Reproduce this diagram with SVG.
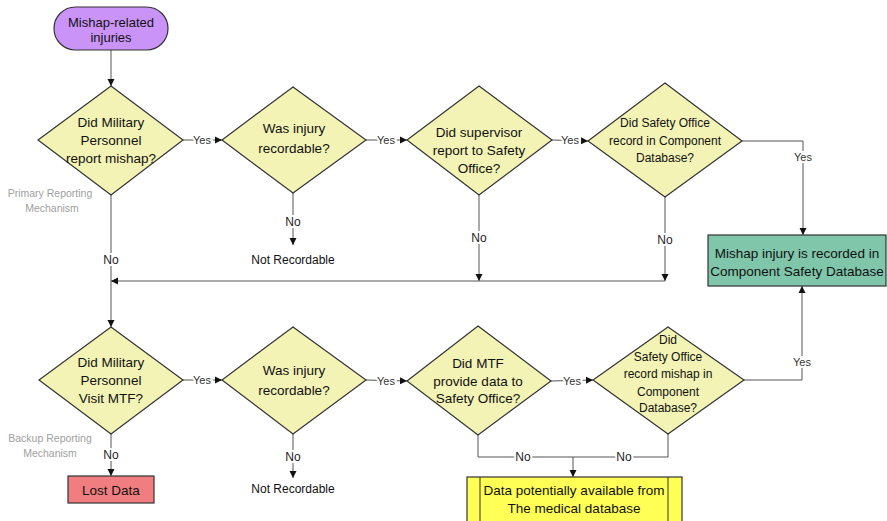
<svg xmlns="http://www.w3.org/2000/svg" width="887" height="521" viewBox="0 0 887 521">
<defs>
<marker id="ah" markerWidth="8" markerHeight="8" refX="7" refY="4" orient="auto" markerUnits="userSpaceOnUse">
<path d="M0,0.5 L7,4 L0,7.5 Z" fill="#111"/>
</marker>
<style>
text{font-family:"Liberation Sans",Arial,sans-serif;fill:#111;text-anchor:middle}
.d{fill:#f3f3b6;stroke:#333;stroke-width:1.2}
.t13{font-size:13.5px}
.t12{font-size:12px}
.c{fill:none;stroke:#555;stroke-width:1}
.a{marker-end:url(#ah)}
.lb{font-size:11px;fill:#333;stroke:#fff;stroke-width:4;paint-order:stroke}
.no{font-size:12px;fill:#222;stroke:#fff;stroke-width:4;paint-order:stroke}
.g{font-size:10.5px;fill:#a0a0a0}
</style>
</defs>
<rect width="887" height="521" fill="#fff"/>

<g id="connectors">
<line class="c a" x1="111" y1="50" x2="111" y2="86"/>
<line class="c a" x1="183" y1="140" x2="222" y2="140"/>
<line class="c a" x1="366" y1="140" x2="407" y2="140"/>
<line class="c a" x1="552" y1="140" x2="588" y2="141"/>
<polyline class="c a" points="742,141 803,141 803,235"/>
<line class="c a" x1="293" y1="193" x2="293" y2="245"/>
<line class="c a" x1="479" y1="195" x2="479" y2="281"/>
<line class="c a" x1="665" y1="197" x2="665" y2="281"/>
<line class="c a" x1="665" y1="281" x2="111" y2="281"/>
<line class="c a" x1="111" y1="195" x2="111" y2="327"/>
<line class="c a" x1="183" y1="380" x2="222" y2="380"/>
<line class="c a" x1="366" y1="380" x2="407" y2="381"/>
<line class="c a" x1="551" y1="381" x2="593" y2="380"/>
<polyline class="c a" points="744,380 802,380 802,286"/>
<line class="c a" x1="293" y1="434" x2="293" y2="478"/>
<line class="c a" x1="111" y1="434" x2="111" y2="476"/>
<polyline class="c" points="478,435 478,457 668,457 668,434"/>
<line class="c a" x1="573" y1="457" x2="573" y2="477"/>

<text class="lb" x="202" y="144">Yes</text>
<text class="lb" x="386" y="144">Yes</text>
<text class="lb" x="570" y="144">Yes</text>
<text class="lb" x="803" y="161">Yes</text>
<text class="no" x="293" y="226">No</text>
<text class="no" x="479" y="242">No</text>
<text class="no" x="665" y="244">No</text>
<text class="no" x="111" y="264">No</text>
<text class="lb" x="202" y="384">Yes</text>
<text class="lb" x="386" y="385">Yes</text>
<text class="lb" x="572" y="385">Yes</text>
<text class="lb" x="802" y="366">Yes</text>
<text class="no" x="293" y="461">No</text>
<text class="no" x="111" y="459">No</text>
<text class="no" x="523" y="461">No</text>
<text class="no" x="624" y="461">No</text>
</g>

<g id="start">
<rect x="54" y="7" width="114" height="43" rx="21.5" fill="#c993f7" stroke="#333" stroke-width="1.2"/>
<text class="t12" x="111" y="26.5" style="font-size:13px">Mishap-related</text>
<text class="t12" x="111" y="41.5" style="font-size:13px">injuries</text>
</g>

<g id="q1">
<polygon class="d" points="111,86 183,140 111,195 38,140"/>
<text class="t13" x="111" y="126.5">Did Military</text>
<text class="t13" x="111" y="144.5">Personnel</text>
<text class="t13" x="111" y="162.5">report mishap?</text>
</g>

<g id="q2">
<polygon class="d" points="293,87 366,140 293,193 222,140"/>
<text class="t13" x="294" y="132.5">Was injury</text>
<text class="t13" x="294" y="152.5">recordable?</text>
</g>

<g id="nr1">
<text class="t12" x="293" y="264">Not Recordable</text>
</g>

<g id="q3">
<polygon class="d" points="479,86 552,140 479,195 407,140"/>
<text class="t13" x="479" y="136.5">Did supervisor</text>
<text class="t13" x="479" y="154.5">report to Safety</text>
<text class="t13" x="479" y="172.5">Office?</text>
</g>

<g id="q4">
<polygon class="d" points="665,83 742,141 665,197 588,141"/>
<text class="t12" x="665" y="127">Did Safety Office</text>
<text class="t12" x="665" y="145">record in Component</text>
<text class="t12" x="665" y="162">Database?</text>
</g>

<g id="recorded">
<rect x="708" y="235" width="178" height="51" fill="#7fc6aa" stroke="#333" stroke-width="1.2"/>
<text class="t13" x="797" y="257.5">Mishap injury is recorded in</text>
<text class="t13" x="797" y="275.5">Component Safety Database</text>
</g>

<g id="primary-label">
<text class="g" x="50" y="197">Primary Reporting</text>
<text class="g" x="52" y="212">Mechanism</text>
</g>

<g id="q5">
<polygon class="d" points="111,327 183,380 111,434 39,380"/>
<text class="t13" x="111" y="366.5">Did Military</text>
<text class="t13" x="111" y="384.5">Personnel</text>
<text class="t13" x="111" y="402.5">Visit MTF?</text>
</g>

<g id="q6">
<polygon class="d" points="293,327 366,380 293,434 222,380"/>
<text class="t13" x="294" y="374.5">Was injury</text>
<text class="t13" x="294" y="394.5">recordable?</text>
</g>

<g id="nr2">
<text class="t12" x="293" y="493">Not Recordable</text>
</g>

<g id="q7">
<polygon class="d" points="478,326 551,381 478,435 407,381"/>
<text class="t13" x="478" y="367.5">Did MTF</text>
<text class="t13" x="478" y="385.5">provide data to</text>
<text class="t13" x="478" y="402.5">Safety Office?</text>
</g>

<g id="q8">
<polygon class="d" points="668,327 744,380 668,434 593,380"/>
<text class="t12" x="668" y="344">Did</text>
<text class="t12" x="668" y="361">Safety Office</text>
<text class="t12" x="668" y="378">record mishap in</text>
<text class="t12" x="668" y="396">Component</text>
<text class="t12" x="668" y="412">Database?</text>
</g>

<g id="backup-label">
<text class="g" x="50" y="442">Backup Reporting</text>
<text class="g" x="50" y="457">Mechanism</text>
</g>

<g id="lost">
<rect x="68" y="476" width="86" height="27" fill="#f07e80" stroke="#333" stroke-width="1.2"/>
<text class="t13" x="111" y="494.5">Lost Data</text>
</g>

<g id="medical">
<rect x="467" y="477" width="215" height="50" fill="#ffff55" stroke="#333" stroke-width="1.2"/>
<line x1="480" y1="477" x2="480" y2="521" stroke="#333" stroke-width="1"/>
<line x1="668" y1="477" x2="668" y2="521" stroke="#333" stroke-width="1"/>
<text class="t13" x="574" y="494.5">Data potentially available from</text>
<text class="t13" x="574" y="512.5">The medical database</text>
</g>
</svg>
